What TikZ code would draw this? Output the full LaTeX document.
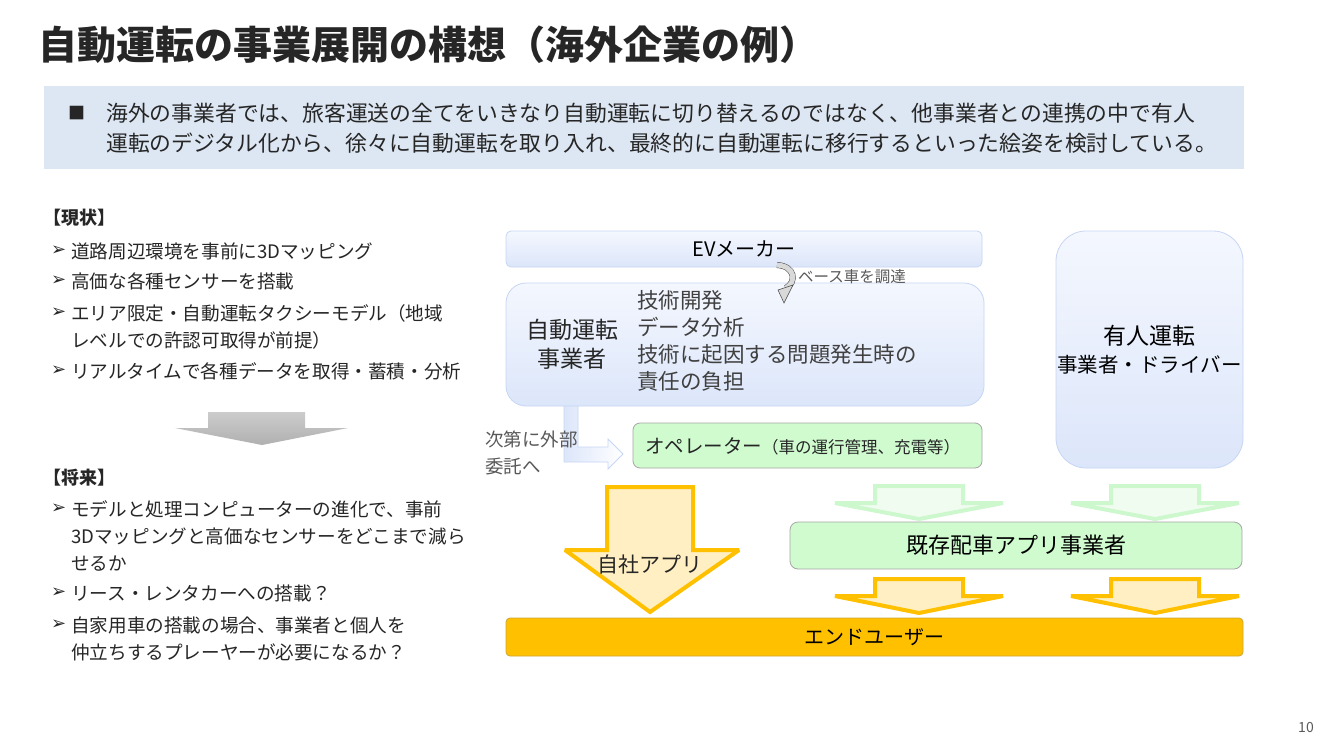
\documentclass[tikz,border=0pt]{standalone}
\usepackage{fontspec}
\setmainfont{Noto Sans CJK JP}
\newfontfamily\dingfont{DejaVu Sans}
\pgfdeclarelayer{bglayer}
\pgfdeclarelayer{arrowlayer}
\pgfdeclarelayer{boxlayer}
\pgfsetlayers{bglayer,arrowlayer,boxlayer,main}
\definecolor{bannerblue}{HTML}{DDE7F3}
\definecolor{boxline}{HTML}{C7D6F4}
\definecolor{boxtop}{HTML}{F4F7FE}
\definecolor{boxbot}{HTML}{DCE6FA}
\definecolor{appgreen}{HTML}{CFFBCF}
\definecolor{gold}{HTML}{FFC000}
\definecolor{paleyellow}{HTML}{FFEFC2}
\definecolor{greenline}{HTML}{CDF8CD}
\definecolor{palegreen}{HTML}{F1FCF1}
\definecolor{inktext}{HTML}{262626}
\definecolor{softtext}{HTML}{595959}
\newcommand{\fsz}[2]{\fontsize{#1}{#2}\selectfont}
\tikzstyle{bluebox}=[draw=boxline, top color=boxtop, bottom color=boxbot, line width=0.8pt, inner sep=0pt]
\tikzstyle{greenbox}=[draw=black!35, fill=appgreen, line width=0.8pt, inner sep=0pt, rounded corners=7pt]
\tikzstyle{goldarrow}=[draw=gold, fill=paleyellow, line width=4pt, miter limit=2.5]
\tikzstyle{greenarrow}=[draw=greenline, fill=palegreen, line width=4pt, miter limit=2.5]
\tikzstyle{txt}=[inner sep=0pt, text=inktext]
\tikzstyle{bullet}=[inner sep=0pt, text=inktext, font=\dingfont\fsz{18}{18}]

\begin{document}
\begin{tikzpicture}[x=1pt, y=-1pt]
	\useasboundingbox (0,0) rectangle (1334,750);
	\begin{pgfonlayer}{bglayer}
		\fill [white] (0,0) rectangle (1334,750);
	\end{pgfonlayer}

	% title and summary
	\node [txt, anchor=west, font=\bfseries\fsz{39}{39}] (title) at (38,45) {自動運転の事業展開の構想（海外企業の例）};
	\begin{pgfonlayer}{bglayer}
		\node [fill=bannerblue, minimum width=1200pt, minimum height=83pt, inner sep=0pt] (banner) at (644,127.5) {};
	\end{pgfonlayer}
	\node [txt, anchor=west, font=\fsz{17}{17}] (mark) at (68,113) {■};
	\node [txt, anchor=west, align=left, font=\fsz{21.8}{30}] (summary) at (106,128)
		{海外の事業者では、旅客運送の全てをいきなり自動運転に切り替えるのではなく、他事業者との連携の中で有人\\運転のデジタル化から、徐々に自動運転を取り入れ、最終的に自動運転に移行するといった絵姿を検討している。};

	% left column
	\node [txt, anchor=west, font=\bfseries\fsz{18}{18}] (now) at (43,218) {【現状】};
	\foreach \y in {251,281,313,371,509,593,625}
		\node [bullet, anchor=west] (b\y) at (51,\y) {➢};
	\node [txt, anchor=west, font=\fsz{18.6}{27}] (now1) at (71,251) {道路周辺環境を事前に3Dマッピング};
	\node [txt, anchor=west, font=\fsz{18.6}{27}] (now2) at (71,281) {高価な各種センサーを搭載};
	\node [txt, anchor=west, align=left, font=\fsz{18.6}{27}] (now3) at (71,326.5) {エリア限定・自動運転タクシーモデル（地域\\レベルでの許認可取得が前提）};
	\node [txt, anchor=west, font=\fsz{18.6}{27}] (now4) at (71,371) {リアルタイムで各種データを取得・蓄積・分析};
	\shade [top color=gray!40, bottom color=gray!62] (208,412) -- (305,412) -- (305,428) -- (348,428) -- (262,445) -- (175,428) -- (208,428) -- cycle;
	\node [txt, anchor=west, font=\bfseries\fsz{18}{18}] (future) at (43,478) {【将来】};
	\node [txt, anchor=west, align=left, font=\fsz{18.6}{27}] (fut1) at (71,536) {モデルと処理コンピューターの進化で、事前\\3Dマッピングと高価なセンサーをどこまで減ら\\せるか};
	\node [txt, anchor=west, font=\fsz{18.6}{27}] (fut2) at (71,593) {リース・レンタカーへの搭載？};
	\node [txt, anchor=west, align=left, font=\fsz{18.6}{27}] (fut3) at (71,638.5) {自家用車の搭載の場合、事業者と個人を\\仲立ちするプレーヤーが必要になるか？};

	% right diagram
	\begin{pgfonlayer}{boxlayer}
		\node [bluebox, rounded corners=5pt, minimum width=476pt, minimum height=36pt, font=\fsz{20}{20}] (ev) at (744,249) {EVメーカー};
		\node [bluebox, rounded corners=20pt, minimum width=478pt, minimum height=123pt] (adsbox) at (745,344.5) {};
		\node [bluebox, rounded corners=30pt, minimum width=187pt, minimum height=237pt, align=center, font=\fsz{20.5}{28}] (driver) at (1149.5,349.5) {{\fsz{23}{28}有人運転}\\事業者・ドライバー};
		\node [greenbox, minimum width=349pt, minimum height=45pt] (op) at (807.5,445.5) {};
		\node [greenbox, rounded corners=8pt, minimum width=452pt, minimum height=47pt, font=\fsz{22}{22}] (app) at (1016,545.5) {既存配車アプリ事業者};
		\node [draw=gold!60!gray, fill=gold, rounded corners=4pt, line width=0.8pt, inner sep=0pt, minimum width=737pt, minimum height=38pt, font=\fsz{20}{20}] (eu) at (874.5,637) {エンドユーザー};
	\end{pgfonlayer}
	\begin{pgfonlayer}{arrowlayer}
		\shade [left color=boxbot, right color=white, draw=boxline, line width=0.8pt]
			(564,404) -- (564,462) -- (608,462) -- (608,469) -- (623,454) -- (608,439) -- (608,447) -- (578,447) -- (578,404) -- cycle;
		\draw [goldarrow] (607,487) -- (693,487) -- (693,550) -- (739,550) -- (650,612) -- (565,550) -- (607,550) -- cycle;
		\foreach \cx in {919,1155} {
			\draw [greenarrow] (\cx-44,486) -- (\cx+44,486) -- (\cx+44,503) -- (\cx+84,503) -- (\cx,519) -- (\cx-84,503) -- (\cx-44,503) -- cycle;
			\draw [goldarrow] (\cx-44,579) -- (\cx+44,579) -- (\cx+44,596) -- (\cx+84,596) -- (\cx,613) -- (\cx-84,596) -- (\cx-44,596) -- cycle;
		}
	\end{pgfonlayer}
	\node [txt, font=\fsz{23}{29}, align=center] (ads) at (572,344) {自動運転\\事業者};
	\node [txt, anchor=west, align=left, font=\fsz{21.5}{27}, text=black!75] (tasks) at (637,341) {技術開発\\データ分析\\技術に起因する問題発生時の\\責任の負担};
	\node [txt, anchor=west] (optxt) at (645,446) {\fsz{19.5}{20}オペレーター\fsz{16.5}{20}（車の運行管理、充電等）};
	\node [txt, font=\fsz{21}{21}] (jisha) at (650,565) {自社アプリ};
	\node [txt, anchor=west, align=left, font=\fsz{18.5}{27}, text=softtext] (outsource) at (485,452.5) {次第に外部\\委託へ};

	% base vehicle procurement
	\draw [double=gray!30, double distance=5pt, draw=gray!55!black, line width=0.5pt] (777,265) .. controls (795,266) and (797,282) .. (786,288);
	\filldraw [fill=gray!30, draw=gray!55!black, line width=0.5pt] (778,290) -- (793,285) -- (784,303) -- cycle;
	\node [txt, anchor=west, font=\fsz{15.5}{15.5}, text=softtext] (procure) at (798,277) {ベース車を調達};

	\node [txt, font=\fsz{14}{14}, text=softtext] (page) at (1306,727) {10};
\end{tikzpicture}
\end{document}
